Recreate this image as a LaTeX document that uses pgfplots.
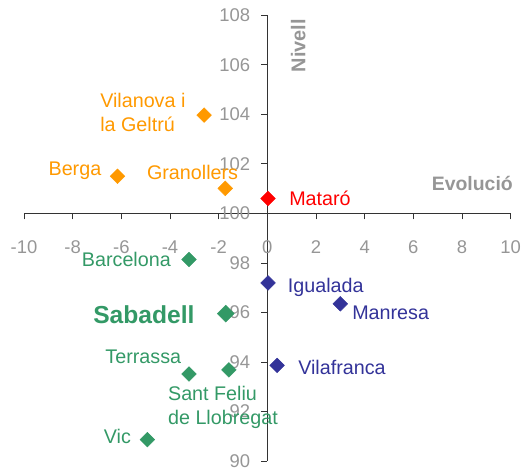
\documentclass[border=0pt]{standalone}
\usepackage{pgfplots}
\pgfplotsset{compat=1.18}
\usepackage{fontspec}
\setmainfont{Liberation Sans}
\definecolor{cOr}{RGB}{255,153,0}
\definecolor{cRd}{RGB}{255,0,0}
\definecolor{cGr}{RGB}{51,153,102}
\definecolor{cBl}{RGB}{51,51,153}
\definecolor{cTk}{RGB}{150,150,150}
\tikzset{lab/.style={font=\fontsize{19.8}{22}\selectfont, inner sep=0pt}}
\begin{document}
\begin{tikzpicture}
\useasboundingbox (-24bp,-12bp) rectangle (504bp,461bp);
\begin{axis}[at={(0,0)}, anchor=south west, scale only axis,
  width=486.7bp, height=445.7bp,
  xmin=-10, xmax=10, ymin=-10, ymax=8,
  axis lines=middle, axis line style={-, black!80, line width=0.8pt},
  xtick={-10,-8,...,10}, ytick={-10,-8,...,8},
  yticklabels={90,92,94,96,98,100,102,104,106,108},
  tick align=outside, major tick length=6bp,
  tick style={black!80, line width=0.8pt},
  hide obscured x ticks=false, hide obscured y ticks=false,
  /pgf/number format/assume math mode=true,
  ticklabel style={font=\fontsize{18.5}{20}\selectfont, text=cTk, inner sep=0pt},
  xticklabel style={anchor=base, yshift=-34bp},
  yticklabel style={anchor=east, xshift=-11bp},
  clip=false,
]
\addplot[only marks, mark=square*, mark size=5.2bp, mark options={rotate=45, fill=cOr, draw=cOr}]
  table[y expr=\thisrow{y}-100] {
x y
-2.60 103.97
-6.16 101.50
-1.73 101.01
};
\addplot[only marks, mark=square*, mark size=5.2bp, mark options={rotate=45, fill=cRd, draw=cRd}]
  table[y expr=\thisrow{y}-100] {
x y
0.03 100.60
};
\addplot[only marks, mark=square*, mark size=5.2bp, mark options={rotate=45, fill=cGr, draw=cGr}]
  table[y expr=\thisrow{y}-100] {
x y
-3.22 98.14
-3.22 93.51
-1.58 93.68
-4.93 90.86
};
\addplot[only marks, mark=square*, mark size=6bp, mark options={rotate=45, fill=cGr, draw=cGr}]
  table[y expr=\thisrow{y}-100] {
x y
-1.71 95.95
};
\addplot[only marks, mark=square*, mark size=5.2bp, mark options={rotate=45, fill=cBl, draw=cBl}]
  table[y expr=\thisrow{y}-100] {
x y
0.03 97.19
3.00 96.35
0.40 93.86
};
% labels
\node[lab, text=cOr, anchor=base west, xshift=-104bp, yshift=8bp] at (axis cs:-2.60,3.97) {Vilanova i};
\node[lab, text=cOr, anchor=base west, xshift=-104bp, yshift=-16bp] at (axis cs:-2.60,3.97) {la Geltrú};
\node[lab, text=cOr, anchor=base east, xshift=-16bp, yshift=1bp] at (axis cs:-6.16,1.50) {Berga};
\node[lab, text=cOr, anchor=base east, xshift=13bp, yshift=9bp] at (axis cs:-1.73,1.01) {Granollers};
\node[lab, text=cRd, anchor=base west, xshift=21bp, yshift=-6.7bp] at (axis cs:0.03,0.60) {Mataró};
\node[lab, text=cGr, anchor=base east, xshift=-18bp, yshift=-7.3bp] at (axis cs:-3.22,-1.86) {Barcelona};
\node[lab, text=cGr, font=\fontsize{24.7}{28}\selectfont\bfseries, anchor=base east, xshift=-31bp, yshift=-10bp] at (axis cs:-1.71,-4.05) {Sabadell};
\node[lab, text=cGr, anchor=base east, xshift=-7.7bp, yshift=10.7bp] at (axis cs:-3.22,-6.49) {Terrassa};
\node[lab, text=cGr, anchor=base west, xshift=-61bp, yshift=-30.3bp] at (axis cs:-1.58,-6.32) {Sant Feliu};
\node[lab, text=cGr, anchor=base west, xshift=-61bp, yshift=-54.6bp] at (axis cs:-1.58,-6.32) {de Llobregat};
\node[lab, text=cGr, anchor=base east, xshift=-16.3bp, yshift=-3.3bp] at (axis cs:-4.93,-9.14) {Vic};
\node[lab, text=cBl, anchor=base west, xshift=19.6bp, yshift=-10bp] at (axis cs:0.03,-2.81) {Igualada};
\node[lab, text=cBl, anchor=base west, xshift=11.7bp, yshift=-15.3bp] at (axis cs:3.00,-3.65) {Manresa};
\node[lab, text=cBl, anchor=base west, xshift=21bp, yshift=-9.3bp] at (axis cs:0.40,-6.14) {Vilafranca};
% axis titles
\node[lab, text=cTk, font=\fontsize{19.5}{22}\selectfont\bfseries, anchor=base east, xshift=2.3bp, yshift=23bp] at (axis cs:10,0) {Evolució};
\node[lab, text=cTk, font=\fontsize{20}{22}\selectfont\bfseries, rotate=90, anchor=center] at (axis cs:1.27,6.78) {Nivell};
\end{axis}
\end{tikzpicture}
\end{document}
